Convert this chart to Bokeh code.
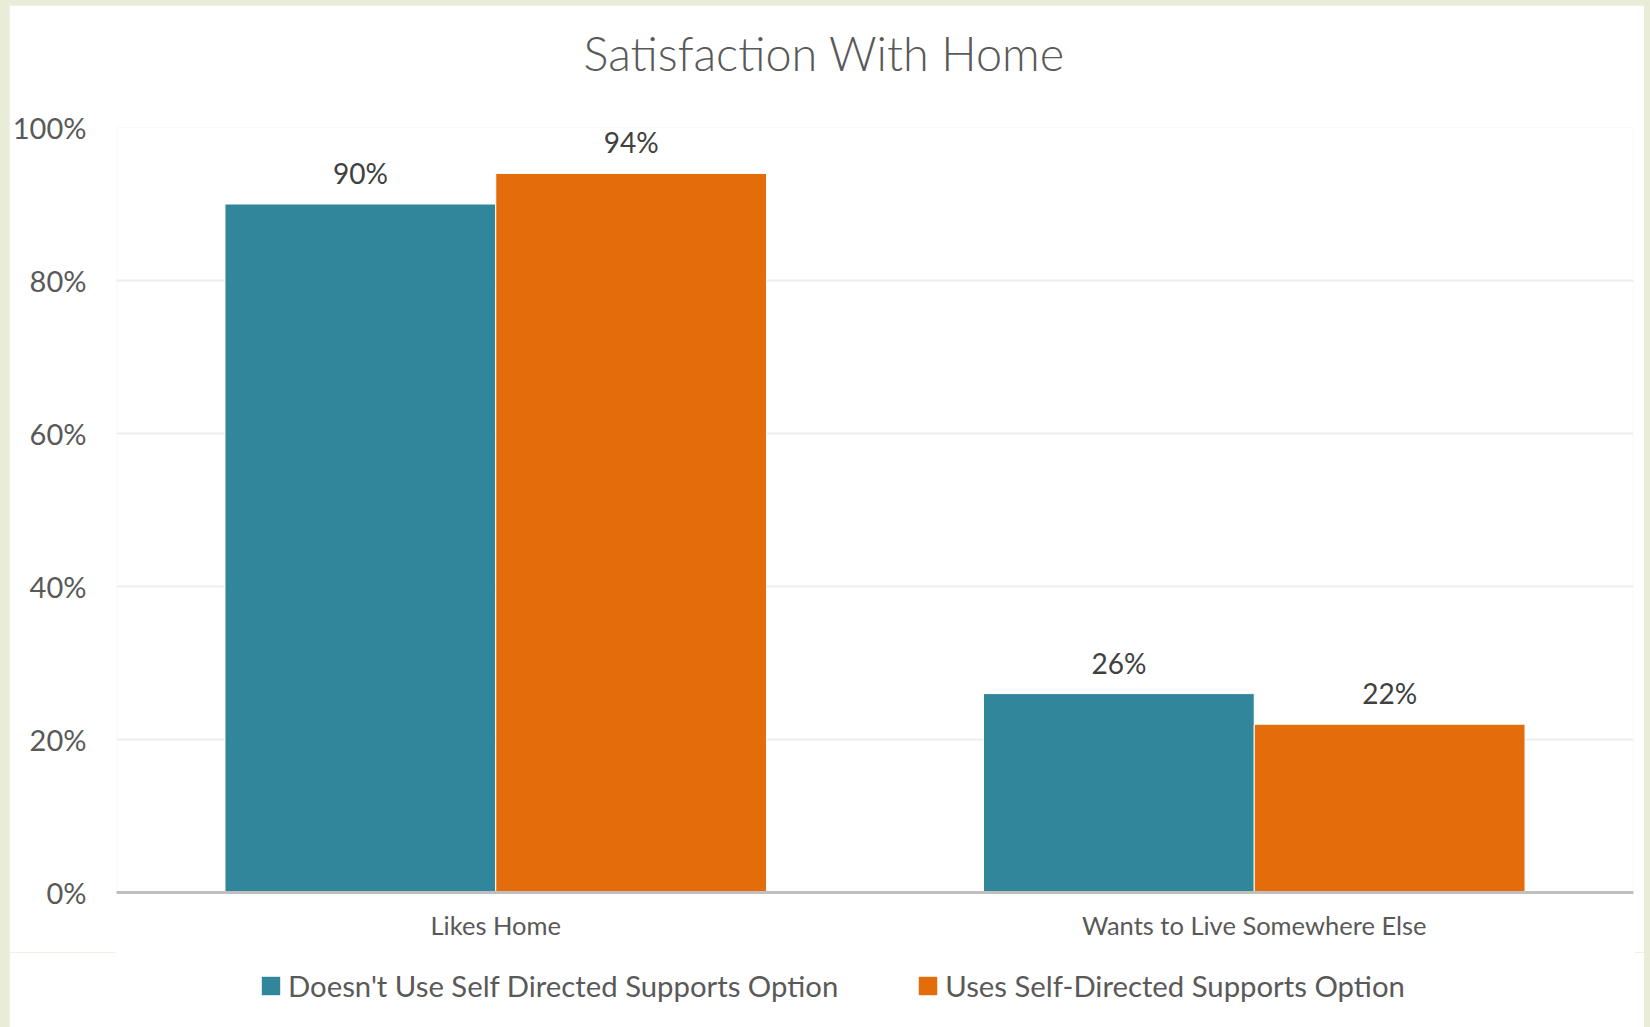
from bokeh.plotting import figure
from bokeh.layouts import column
from bokeh.models import (ColumnDataSource, FactorRange, Range1d, FixedTicker,
                          NumeralTickFormatter, Legend, LegendItem, Title)
from bokeh.transform import dodge
from bokeh.core.properties import value
from bokeh.embed import file_html
from bokeh.resources import INLINE

categories = ["Likes Home", "Wants to Live Somewhere Else"]
series_names = ["Doesn't Use Self Directed Supports Option",
                "Uses Self-Directed Supports Option"]
doesnt_use = [0.90, 0.26]
uses = [0.94, 0.22]
y_ticks = [0, 0.2, 0.4, 0.6, 0.8, 1.0]
chart_title = "Satisfaction With Home"

FONT = "Lato"
TXT = "#595959"
TEAL = "#31869B"
ORANGE = "#E46C0A"

src = ColumnDataSource(dict(
    cat=categories,
    a=doesnt_use,
    b=uses,
    a_lbl=[f"{round(v*100)}%" for v in doesnt_use],
    b_lbl=[f"{round(v*100)}%" for v in uses],
))

W = 1635
p = figure(x_range=FactorRange(*categories, range_padding=0),
           y_range=Range1d(0, 1.0),
           width=W, height=947,
           output_backend="svg", toolbar_location=None,
           min_border_left=107, min_border_right=11,
           min_border_top=122, min_border_bottom=60)

bw = 0.357
r1 = p.vbar(x=dodge("cat", -bw / 2, range=p.x_range), top="a", width=bw,
            source=src, fill_color=TEAL, line_color="white", line_width=1)
r2 = p.vbar(x=dodge("cat", bw / 2, range=p.x_range), top="b", width=bw,
            source=src, fill_color=ORANGE, line_color="white", line_width=1)

lbl_kw = dict(text_font=value(FONT), text_font_size="28px", text_color="#404040",
              text_align="center", text_baseline="middle", y_offset=-31)
p.text(x=dodge("cat", -bw / 2, range=p.x_range), y="a", text="a_lbl", source=src, **lbl_kw)
p.text(x=dodge("cat", bw / 2, range=p.x_range), y="b", text="b_lbl", source=src, **lbl_kw)

# title: a small spacer title next to the frame, then the real title above it
p.title.text = ""
p.title.standoff = 0
spacer = Title(text=" ", text_font_size="1px", standoff=44)
main_title = Title(text=chart_title, align="left", offset=467, standoff=0,
                   text_font="Lato Light", text_font_style="normal",
                   text_font_size="46.8px", text_color=TXT)
p.add_layout(spacer, "above")
p.add_layout(main_title, "above")

# axes
p.yaxis.ticker = FixedTicker(ticks=y_ticks)
p.yaxis.formatter = NumeralTickFormatter(format="0%")
p.yaxis.axis_line_color = None
p.yaxis.major_tick_line_color = None
p.yaxis.minor_tick_line_color = None
p.yaxis.major_label_standoff = 24
p.yaxis.major_label_text_font = FONT
p.yaxis.major_label_text_font_size = "29px"
p.yaxis.major_label_text_color = TXT

p.xaxis.axis_line_color = "#BFBFBF"
p.xaxis.axis_line_width = 3
p.xaxis.major_tick_line_color = None
p.xaxis.minor_tick_line_color = None
p.xaxis.major_label_standoff = 11
p.xaxis.major_label_text_font = FONT
p.xaxis.major_label_text_font_size = "25.5px"
p.xaxis.major_label_text_color = TXT

p.xgrid.grid_line_color = None
p.ygrid.grid_line_color = "#EDEDED"
p.ygrid.grid_line_width = 2
p.ygrid.ticker = FixedTicker(ticks=y_ticks)

p.outline_line_color = None
p.border_fill_color = "white"
p.background_fill_color = "white"

# legend strip below the chart (its bars are out of view; only the legend shows)
lg = figure(x_range=FactorRange(*categories, range_padding=0),
            y_range=Range1d(2, 3), width=W, height=75,
            x_axis_location=None, y_axis_location=None,
            output_backend="svg", toolbar_location=None,
            min_border_left=0, min_border_right=0,
            min_border_top=0, min_border_bottom=0)
lr1 = lg.vbar(x=dodge("cat", -bw / 2, range=lg.x_range), top="a", width=bw,
              source=src, fill_color=TEAL, line_color=None)
lr2 = lg.vbar(x=dodge("cat", bw / 2, range=lg.x_range), top="b", width=bw,
              source=src, fill_color=ORANGE, line_color=None)
lg.grid.visible = False
lg.outline_line_color = "white"
lg.outline_line_width = 3
lg.border_fill_color = "white"
lg.background_fill_color = "white"

legend = Legend(items=[LegendItem(label=series_names[0], renderers=[lr1]),
                       LegendItem(label=series_names[1], renderers=[lr2])],
                orientation="horizontal", location=(143, 24),
                label_text_font=FONT, label_text_font_size="29.3px",
                label_text_color=TXT, glyph_width=23, glyph_height=23,
                label_standoff=6, spacing=78, padding=4, margin=0,
                border_line_color=None, background_fill_alpha=0)
lg.add_layout(legend, "center")

layout = column(p, lg, spacing=0)
html = file_html(layout, INLINE)
html = html.replace("</head>",
                    "<style>body{background:#E9EDD8 !important;padding:5px 0 0 9px !important;}</style></head>", 1)
open("out.html", "w").write(html)
